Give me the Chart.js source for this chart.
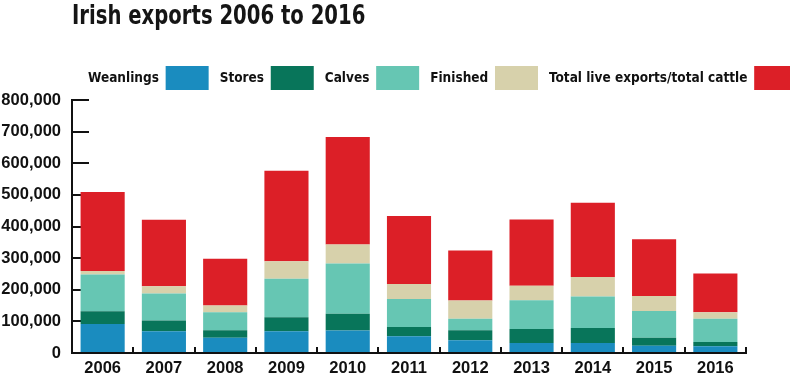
<!DOCTYPE html>
<html>
<head>
<meta charset="utf-8">
<script src="https://cdn.jsdelivr.net/npm/chart.js@4.4.1/dist/chart.umd.min.js"></script>
<style>
	html, body { margin: 0; padding: 0; background: #fff; }
	#wrap { position: relative; width: 790px; height: 380px; }
	#title {
		position: absolute; left: 72px; top: 0px;
		font: bold 26px "DejaVu Sans Condensed", sans-serif;
		color: #151515; white-space: nowrap;
		transform: scaleX(0.84); transform-origin: left top;
	}
</style>
</head>
<body>
<div id="wrap">
	<div id="title">Irish exports 2006 to 2016</div>
	<canvas id="exportsChart"></canvas>
</div>
<script>
const years = ['2006', '2007', '2008', '2009', '2010', '2011', '2012', '2013', '2014', '2015', '2016'];
const weanlings = [92000, 69000, 48000, 69000, 71000, 53000, 40000, 32000, 32000, 23000, 21000];
const stores = [40000, 34000, 24000, 44000, 53000, 29000, 32000, 44000, 47000, 25000, 14000];
const calves = [116000, 85000, 57000, 122000, 159000, 89000, 36000, 91000, 100000, 85000, 73000];
const finished = [11000, 23000, 21000, 55000, 60000, 47000, 58000, 46000, 61000, 47000, 21000];
const totalLive = [250000, 210000, 148000, 286000, 340000, 215000, 158000, 209000, 235000, 180000, 122000];
const yTicks = [0, 100000, 200000, 300000, 400000, 500000, 600000, 700000, 800000];

const condensed = '"DejaVu Sans Condensed", sans-serif';
const plain = '"Liberation Sans", Arial, sans-serif';

function ds(label, data, color) {
	return {
		label: label,
		data: data,
		backgroundColor: color,
		borderWidth: 0,
		barPercentage: 0.72,
		categoryPercentage: 1
	};
}

// legend sits further right than the plot, so slide it over after layout
const legendShift = {
	id: 'legendShift',
	afterLayout: function(chart) {
		const lg = chart.legend;
		if (!lg) {
			return;
		}
		lg.left = 77;
		lg.right = 77 + 760;
		lg.width = 760;
		if (lg.adjustHitBoxes) {
			lg.adjustHitBoxes();
		}
	}
};

new Chart(document.getElementById('exportsChart').getContext('2d'), {
	type: 'bar',
	data: {
		labels: years,
		datasets: [
			ds('Weanlings', weanlings, '#1a8cbf'),
			ds('Stores', stores, '#08755a'),
			ds('Calves', calves, '#66c6b3'),
			ds('Finished', finished, '#d7d1ab'),
			ds('Total live exports/total cattle', totalLive, '#dc1f27')
		]
	},
	plugins: [legendShift],
	options: {
		responsive: true,
		maintainAspectRatio: false,
		animation: false,
		layout: { padding: { top: 55, right: 44, left: 0, bottom: 0 } },
		scales: {
			x: {
				stacked: true,
				afterFit: function(axis) { axis.height = 27; },
				grid: { drawOnChartArea: false, drawTicks: true, tickLength: -6, color: '#111', lineWidth: 2 },
				border: { color: '#111', width: 2 },
				ticks: { color: '#111', padding: 12, font: { family: plain, weight: 'bold', size: 16.5 } }
			},
			y: {
				stacked: true,
				min: 0,
				max: 800000,
				afterBuildTicks: function(axis) {
					axis.ticks = yTicks.map(function(v) { return { value: v }; });
				},
				afterFit: function(axis) {
					axis.width = 72;
					axis.paddingTop = 10;
					axis.paddingBottom = 10;
				},
				grid: { drawOnChartArea: false, drawTicks: true, tickLength: -17, color: '#111', lineWidth: 2 },
				border: { color: '#111', width: 2 },
				ticks: {
					color: '#111',
					padding: 28,
					font: { family: plain, weight: 'bold', size: 16.5 },
					callback: function(v) { return v.toLocaleString('en-US'); }
				}
			}
		},
		plugins: {
			tooltip: { enabled: false },
			legend: {
				position: 'top',
				align: 'end',
				rtl: true,
				reverse: true,
				labels: {
					boxWidth: 43,
					boxHeight: 24,
					padding: 11,
					color: '#111',
					font: { family: condensed, weight: 'bold', size: 13.5 }
				}
			}
		}
	}
});
</script>
</body>
</html>
